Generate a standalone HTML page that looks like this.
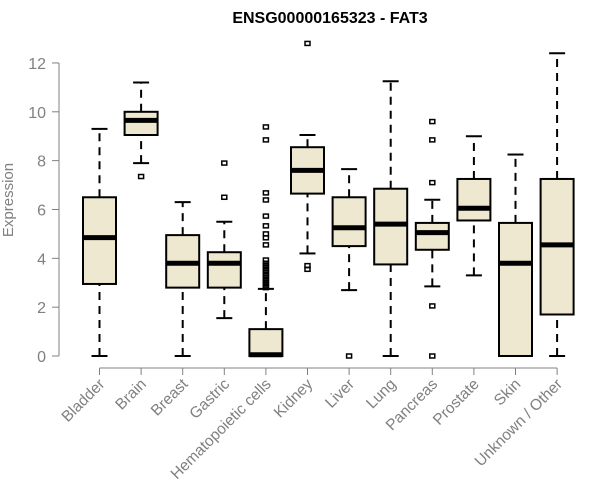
<!DOCTYPE html>
<html><head><meta charset="utf-8"><style>
body{margin:0;background:#fff}
svg{display:block;font-family:"Liberation Sans",sans-serif}
</style></head><body>
<svg id="c" width="600" height="500">
<text x="330" y="23" text-anchor="middle" font-weight="bold" font-size="16">ENSG00000165323 - FAT3</text>
<text transform="translate(13,200) rotate(-90)" text-anchor="middle" font-size="15" fill="#808080">Expression</text>
<g id="yaxis"></g>
<g id="xaxis"></g>
<g id="boxes"></g>
</svg>
<script>
const categories=["Bladder","Brain","Breast","Gastric","Hematopoietic cells","Kidney","Liver","Lung","Pancreas","Prostate","Skin","Unknown / Other"];
const whiskerLow=[0,7.9,0,1.55,0,4.2,2.7,0,2.85,3.3,0,0];
const q1=[2.95,9.05,2.8,2.8,0,6.65,4.5,3.75,4.35,5.55,0,1.7];
const medians=[4.85,9.65,3.8,3.8,0.05,7.6,5.25,5.4,5.05,6.05,3.8,4.55];
const q3=[6.5,10.0,4.95,4.25,1.1,8.55,6.5,6.85,5.45,7.25,5.45,7.25];
const whiskerHigh=[9.3,11.2,6.3,5.5,2.75,9.05,7.65,11.25,6.4,9.0,8.25,12.4];
const outliers=[[],[7.35],[],[6.5,7.9],[9.38,8.85,6.68,6.39,5.73,5.33,5.0,4.84,4.55,3.93,3.8,3.7,3.6,3.5,3.4,3.3,3.2,3.1,3.0,2.9,2.8],[12.8,3.55,3.7],[0],[],[7.1,8.85,9.6,2.05,0],[],[],[]];
const yTicks=[0,2,4,6,8,10,12];
const NS="http://www.w3.org/2000/svg";
const y=v=>356-v*24.42;
const x=i=>99.5+i*41.6;
function mk(p,t,a){const e=document.createElementNS(NS,t);for(const k in a)e.setAttribute(k,a[k]);p.appendChild(e);return e;}
const ya=document.getElementById('yaxis'),xa=document.getElementById('xaxis'),bx=document.getElementById('boxes');
mk(ya,'line',{x1:59,x2:59,y1:y(0),y2:y(12),stroke:'#808080'});
yTicks.forEach(t=>{
 let tk=mk(ya,'line',{x1:52,x2:59,y1:y(t),y2:y(t),stroke:'#808080'});
 
 
 let tx=mk(ya,'text',{x:46,y:y(t)+6,'text-anchor':'end','font-size':16,fill:'#808080'});
 tx.textContent=t;
 
 
});
mk(xa,'line',{x1:x(0),x2:x(11),y1:368,y2:368,stroke:'#808080'});
categories.forEach((c,i)=>{
 let tk=mk(xa,'line',{x1:x(i),x2:x(i),y1:368,y2:375,stroke:'#808080'});
 
 
 let tx=mk(xa,'text',{transform:`translate(${x(i)+6},385) rotate(-45)`,'text-anchor':'end','font-size':15.5,fill:'#808080'});
 tx.textContent=c;
 
 
 const g=mk(bx,'g',{});
 
 
 const cx=x(i),hw=16.5;
 mk(g,'line',{x1:cx,x2:cx,y1:y(whiskerLow[i]),y2:y(q1[i]),stroke:'#000','stroke-width':2,'stroke-dasharray':'8,6'});
 mk(g,'line',{x1:cx,x2:cx,y1:y(q3[i]),y2:y(whiskerHigh[i]),stroke:'#000','stroke-width':2,'stroke-dasharray':'8,6'});
 mk(g,'line',{x1:cx-8,x2:cx+8,y1:y(whiskerLow[i]),y2:y(whiskerLow[i]),stroke:'#000','stroke-width':2});
 mk(g,'line',{x1:cx-8,x2:cx+8,y1:y(whiskerHigh[i]),y2:y(whiskerHigh[i]),stroke:'#000','stroke-width':2});
 mk(g,'rect',{x:cx-hw,y:y(q3[i]),width:hw*2,height:Math.max(y(q1[i])-y(q3[i]),0.1),fill:'#ede8cf',stroke:'#000','stroke-width':2});
 mk(g,'line',{x1:cx-hw,x2:cx+hw,y1:y(medians[i]),y2:y(medians[i]),stroke:'#000','stroke-width':5});
 outliers[i].forEach(o=>{mk(g,'rect',{x:cx-2.5,y:y(o)-2,width:5,height:4,fill:'none',stroke:'#000','stroke-width':1.5});});
});
</script>
</body></html>
